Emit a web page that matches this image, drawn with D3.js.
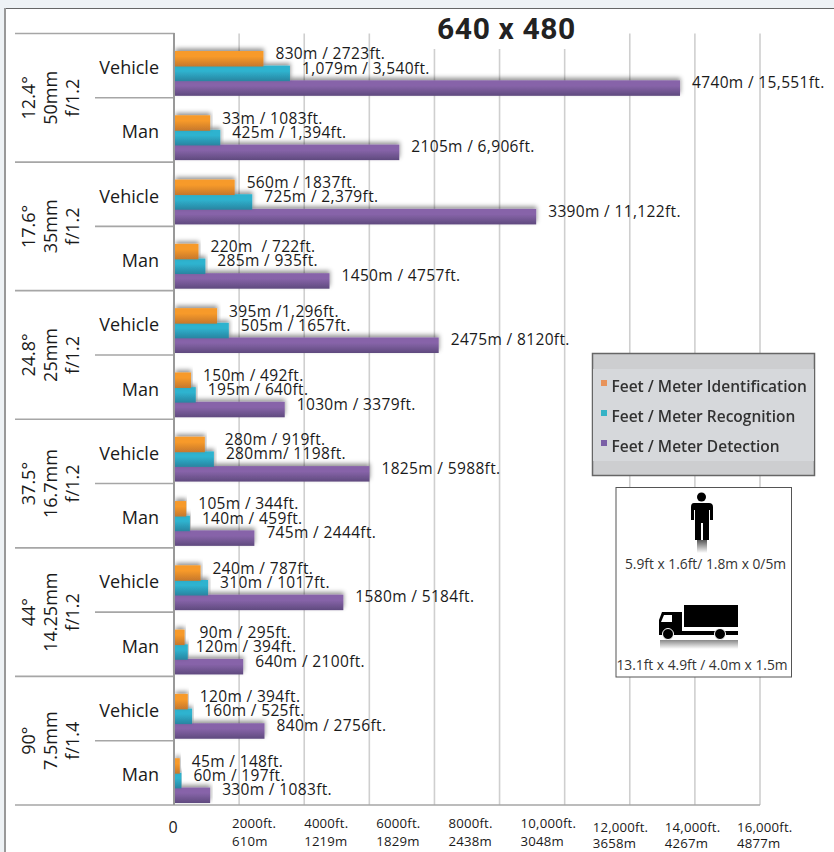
<!DOCTYPE html>
<html><head><meta charset="utf-8">
<script src="https://cdn.jsdelivr.net/npm/d3@7/dist/d3.min.js"></script>
<style>html,body{margin:0;padding:0;background:#eef2f5;overflow:hidden}svg{display:block}</style>
</head><body><svg id="c" width="834" height="852"></svg>
<script>
const lenses = [["12.4°","50mm","f/1.2"],["17.6°","35mm","f/1.2"],["24.8°","25mm","f/1.2"],["37.5°","16.7mm","f/1.2"],["44°","14.25mm","f/1.2"],["90°","7.5mm","f/1.4"]];
const targets = ["Vehicle","Man"];
const seriesNames = ["Feet / Meter Identification","Feet / Meter Recognition","Feet / Meter Detection"];
const identification = [830,330,560,220,395,150,280,105,240,90,120,45];
const recognition = [1079,425,725,285,505,195,365,140,310,120,160,60];
const detection = [4740,2105,3390,1450,2475,1030,1825,745,1580,640,840,330];
const identificationLabels = ["830m / 2723ft.","33m / 1083ft.","560m / 1837ft.","220m  / 722ft.","395m /1,296ft.","150m / 492ft.","280m / 919ft.","105m / 344ft.","240m / 787ft.","90m / 295ft.","120m / 394ft.","45m / 148ft."];
const recognitionLabels = ["1,079m / 3,540ft.","425m / 1,394ft.","725m / 2,379ft.","285m / 935ft.","505m / 1657ft.","195m / 640ft.","280mm/ 1198ft.","140m / 459ft.","310m / 1017ft.","120m / 394ft.","160m / 525ft.","60m / 197ft."];
const detectionLabels = ["4740m / 15,551ft.","2105m / 6,906ft.","3390m / 11,122ft.","1450m / 4757ft.","2475m / 8120ft.","1030m / 3379ft.","1825m / 5988ft.","745m / 2444ft.","1580m / 5184ft.","640m / 2100ft.","840m / 2756ft.","330m / 1083ft."];
const feetTicks = [2000,4000,6000,8000,10000,12000,14000,16000];
const feetLabels = ["2000ft.","4000ft.","6000ft.","8000ft.","10,000ft.","12,000ft.","14,000ft.","16,000ft."];
const meterLabels = ["610m","1219m","1829m","2438m","3048m","3658m","4267m","4877m"];
const gridSteps = [1,2,3,4,5,6,7,8,9];
const seriesColors = [["#f79a2b","#c5772d"],["#2eb3cf","#2a84a0"],["#8764a9","#5f4a7e"]];
const legendColors = ["#e8935a","#35b3c6","#7a5ea6"];

const font = "'Open Sans',sans-serif";
const svg = d3.select("#c");
const defs = svg.append("defs");
const W=834,H=852;
const plotLeft=174.5,plotRight=760,plotTop=33.5,plotBottom=805;
const x = d3.scaleLinear().domain([0,5500]).range([175,761]);
const grid = d3.scaleLinear().domain([0,9]).range([174,760]);
const tickX = d3.scaleLinear().domain([2000,16000]).range([232,737]);
const rowKeys = d3.range(12);
const y = d3.scaleBand().domain(rowKeys).range([plotTop,plotBottom]);
const sub = d3.scaleBand().domain([0,1,2]).range([17.5,61.5]);

seriesColors.forEach((c,i)=>{
  const g=defs.append("linearGradient").attr("id","g"+i).attr("x1",0).attr("x2",0).attr("y1",0).attr("y2",1);
  g.append("stop").attr("offset","35%").attr("stop-color",c[0]);
  g.append("stop").attr("offset","100%").attr("stop-color",c[1]);
});
const f=defs.append("filter").attr("id","sh").attr("x","-5%").attr("y","-60%").attr("width","112%").attr("height","200%");
f.append("feDropShadow").attr("dx",0.5).attr("dy",-2.5).attr("stdDeviation",2).attr("flood-color","#000").attr("flood-opacity",.42);
const blur=defs.append("filter").attr("id","soft");
blur.append("feGaussianBlur").attr("stdDeviation",.45);
const fade=defs.append("linearGradient").attr("id","fade").attr("x1",0).attr("x2",0).attr("y1",0).attr("y2",1);
fade.append("stop").attr("offset","0").attr("stop-color","#555");
fade.append("stop").attr("offset","1").attr("stop-color","#fff");

// panel
svg.append("rect").attr("x",5).attr("y",9).attr("width",W-5).attr("height",H-9).attr("fill","#fff");
svg.append("line").attr("x1",4).attr("x2",W).attr("y1",8.5).attr("y2",8.5).attr("stroke","#666").attr("stroke-width",1);
svg.append("line").attr("x1",5).attr("x2",5).attr("y1",8).attr("y2",H).attr("stroke","#999").attr("stroke-width",2);

// grid
svg.append("g").selectAll("line").data(gridSteps).join("line")
  .attr("x1",d=>grid(d)).attr("x2",d=>grid(d))
  .attr("y1",d=>(d>=4&&d<=6)?49:plotTop).attr("y2",plotBottom)
  .attr("stroke","#cfcfcf").attr("stroke-width",1.6);

// bars (reverse order so shadows never fall on the shorter bars)
const all=[identification,recognition,detection];
const labels=[identificationLabels,recognitionLabels,detectionLabels];
const barH=15.5;
[2,1,0].forEach(s=>{
  svg.append("g").selectAll("rect").data(all[s]).join("rect")
    .attr("x",175).attr("y",(d,i)=>y(i)+sub(s))
    .attr("width",d=>x(d)-175).attr("height",barH)
    .attr("fill",`url(#g${s})`).attr("filter","url(#sh)");
});

// rows lines + axis line sit over the bar shadows
const rl=svg.append("g").attr("stroke","#a6a6a6").attr("stroke-width",1.6);
d3.range(13).forEach(i=>{
  const yy = plotTop + i*y.step();
  rl.append("line").attr("x1",i%2?95:15).attr("x2",i===12?plotRight:plotLeft).attr("y1",yy).attr("y2",yy);
});
svg.append("line").attr("x1",174).attr("x2",174).attr("y1",plotTop-.5).attr("y2",plotBottom).attr("stroke","#999").attr("stroke-width",2);

// value labels
const labelYOffset=[0.7,0.1,0];
const labelNudge=new Map([["0-6",8],["1-9",-4],["0-9",3]]);
labels.forEach((arr,s)=>{
  svg.append("g").selectAll("text").data(arr).join("text")
    .attr("x",(d,i)=>x(all[s][i])+12+(labelNudge.get(s+"-"+i)||0))
    .attr("y",(d,i)=>y(i)+sub(s)+barH/2+labelYOffset[s])
    .attr("font-family",font).attr("font-size",15.5).attr("letter-spacing",.35).attr("fill","#1a1a1a")
    .style("white-space","pre").text(d=>d);
});

// row & lens labels
svg.append("g").selectAll("text").data(rowKeys).join("text")
  .attr("x",159).attr("y",i=>y(i)+y.step()/2+8.5).attr("text-anchor","end")
  .attr("font-family",font).attr("font-size",18).attr("fill","#1a1a1a").text(i=>targets[i%2]);
lenses.forEach((l,i)=>{
  const cy=plotTop+(i*2+1)*y.step();
  l.forEach((t,j)=>{
    svg.append("text").attr("transform",`translate(${35+22*j},${cy}) rotate(-90)`)
      .attr("text-anchor","middle").attr("font-family",font).attr("font-size",18).attr("fill","#1a1a1a").text(t);
  });
});

// axis labels
svg.append("text").attr("x",173).attr("y",833).attr("text-anchor","middle").attr("font-family",font).attr("font-size",16).attr("fill","#1a1a1a").text("0");
const axisG=svg.append("g").attr("font-family",font).attr("font-size",13.2).attr("letter-spacing",.2).attr("fill","#1a1a1a");
axisG.selectAll("text.f").data(feetTicks).join("text").attr("class","f")
  .attr("x",d=>tickX(d)).attr("y",d=>d>=12000?832:828).text((d,i)=>feetLabels[i]);
axisG.selectAll("text.m").data(feetTicks).join("text").attr("class","m")
  .attr("x",d=>tickX(d)).attr("y",d=>d>=12000?848:845.5).text((d,i)=>meterLabels[i]);

// title
svg.append("text").attr("x",506.5).attr("y",38.5).attr("text-anchor","middle").attr("font-family","Roboto,sans-serif").attr("font-weight",700).attr("font-size",30).attr("letter-spacing",.6).attr("fill","#222").text("640 x 480");

// legend
svg.append("rect").attr("x",592.5).attr("y",353.5).attr("width",222).attr("height",122).attr("fill","#cdced0").attr("stroke","#666").attr("stroke-width",1.5);
svg.append("rect").attr("x",593).attr("y",369).attr("width",221).attr("height",92).attr("fill","#d6d8db");
const lg=svg.append("g").attr("filter","url(#soft)");
seriesNames.forEach((n,i)=>{
  lg.append("rect").attr("x",601).attr("y",380+30*i).attr("width",6).attr("height",6).attr("fill",legendColors[i]);
  lg.append("text").attr("x",611.5).attr("y",391.5+30*i).attr("font-family",font).attr("font-weight",600).attr("font-size",15.5).attr("fill","#333").text(n);
});

// size box
svg.append("rect").attr("x",616).attr("y",487.5).attr("width",175.5).attr("height",189.5).attr("fill","#fff").attr("stroke","#555").attr("stroke-width",1);
const man=svg.append("g");
man.append("rect").attr("x",697).attr("y",540).attr("width",10).attr("height",13).attr("fill","url(#fade)");
man.append("circle").attr("cx",701.5).attr("cy",497).attr("r",4.5).attr("fill","#000");
man.append("path").attr("fill","#000").attr("d","M694 503H709Q713 503 713 507V520H710V510H709V540H703V523H701V540H695V510H694V520H691V507Q691 503 694 503Z");
const truck=svg.append("g");
truck.append("rect").attr("x",660).attr("y",640).attr("width",78).attr("height",9).attr("fill","url(#fade)").attr("opacity",.7);
truck.append("rect").attr("x",684).attr("y",605).attr("width",54).attr("height",22).attr("fill","#000");
truck.append("path").attr("fill","#000").attr("d","M662 612H682V631H738V635H659V620Z");
truck.append("path").attr("fill","#fff").attr("d","M664 615H672V622H661Z");
truck.append("circle").attr("cx",668).attr("cy",634).attr("r",5.5).attr("fill","#000").attr("stroke","#fff").attr("stroke-width",1);
truck.append("circle").attr("cx",720).attr("cy",634).attr("r",5.5).attr("fill","#000").attr("stroke","#fff").attr("stroke-width",1);
svg.append("text").attr("x",705.5).attr("y",569).attr("text-anchor","middle").attr("font-family",font).attr("font-size",13.8).attr("fill","#333").text("5.9ft x 1.6ft/ 1.8m x 0/5m");
svg.append("text").attr("x",702).attr("y",670).attr("text-anchor","middle").attr("font-family",font).attr("font-size",13.8).attr("fill","#333").text("13.1ft x 4.9ft / 4.0m x 1.5m");
</script></body></html>
